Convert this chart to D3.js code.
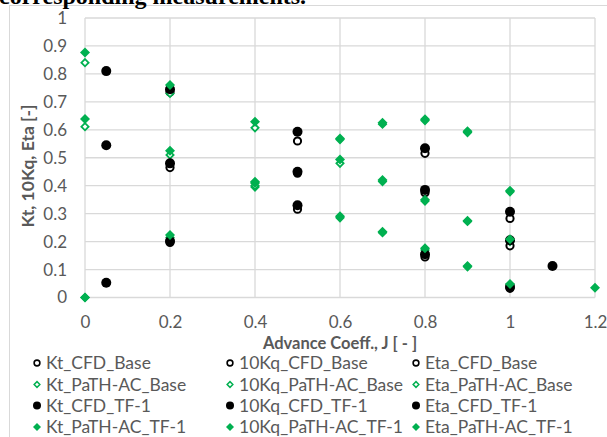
<!DOCTYPE html>
<html>
<head>
<meta charset="utf-8">
<script src="https://cdn.jsdelivr.net/npm/d3@7/dist/d3.min.js"></script>
<style>
  html, body { margin: 0; padding: 0; background: #fff; }
  svg { display: block; }
</style>
</head>
<body>
<svg id="chart" width="607" height="437"></svg>
<script>
// Advance coefficient values for each data source
const cfdBaseJ = [0.2, 0.5, 0.8, 1.0];
const cfdTfJ   = [0.05, 0.2, 0.5, 0.8, 1.0, 1.1];
const pathJ    = [0, 0.2, 0.4, 0.6, 0.7, 0.8, 0.9, 1.0, 1.2];

// CFD results, base propeller
const ktCfdBase  = [0.465, 0.316, 0.145, 0.033];
const kqCfdBase  = [0.735, 0.560, 0.375, 0.185];
const etaCfdBase = [0.197, 0.445, 0.516, 0.283];

// PaTH-AC results, base propeller
const ktPathBase  = [0.611, 0.510, 0.395, 0.285, 0.232, 0.170, 0.110, 0.045, null];
const kqPathBase  = [0.840, 0.730, 0.607, 0.480, 0.415, 0.345, 0.272, 0.200, null];
const etaPathBase = [0.000, 0.215, 0.400, 0.565, 0.620, 0.633, 0.590, 0.378, null];

// CFD results, TF-1
const ktCfdTf  = [0.545, 0.480, 0.330, 0.155, 0.038, null];
const kqCfdTf  = [0.810, 0.745, 0.593, 0.385, 0.205, null];
const etaCfdTf = [0.053, 0.202, 0.450, 0.534, 0.307, 0.113];

// PaTH-AC results, TF-1
const ktPathTf  = [0.639, 0.525, 0.410, 0.291, 0.235, 0.176, 0.113, 0.048, null];
const kqPathTf  = [0.877, 0.760, 0.629, 0.494, 0.420, 0.350, 0.275, 0.208, null];
const etaPathTf = [0.000, 0.224, 0.414, 0.569, 0.625, 0.638, 0.595, 0.382, 0.035];

const xTicks = [0, 0.2, 0.4, 0.6, 0.8, 1, 1.2];
const yTicks = [0, 0.1, 0.2, 0.3, 0.4, 0.5, 0.6, 0.7, 0.8, 0.9, 1];

// Series in legend order (row by row, three columns)
const series = [
  { name: "Kt_CFD_Base",        j: cfdBaseJ, v: ktCfdBase,   kind: "openCircle" },
  { name: "10Kq_CFD_Base",      j: cfdBaseJ, v: kqCfdBase,   kind: "openCircle" },
  { name: "Eta_CFD_Base",       j: cfdBaseJ, v: etaCfdBase,  kind: "openCircle" },
  { name: "Kt_PaTH-AC_Base",    j: pathJ,    v: ktPathBase,  kind: "openDiamond" },
  { name: "10Kq_PaTH-AC_Base",  j: pathJ,    v: kqPathBase,  kind: "openDiamond" },
  { name: "Eta_PaTH-AC_Base",   j: pathJ,    v: etaPathBase, kind: "openDiamond" },
  { name: "Kt_CFD_TF-1",        j: cfdTfJ,   v: ktCfdTf,     kind: "circle" },
  { name: "10Kq_CFD_TF-1",      j: cfdTfJ,   v: kqCfdTf,     kind: "circle" },
  { name: "Eta_CFD_TF-1",       j: cfdTfJ,   v: etaCfdTf,    kind: "circle" },
  { name: "Kt_PaTH-AC_TF-1",    j: pathJ,    v: ktPathTf,    kind: "diamond" },
  { name: "10Kq_PaTH-AC_TF-1",  j: pathJ,    v: kqPathTf,    kind: "diamond" },
  { name: "Eta_PaTH-AC_TF-1",   j: pathJ,    v: etaPathTf,   kind: "diamond" }
];

const GREEN = "#00b050";
const svg = d3.select("#chart");
const font = "Lato, 'Open Sans', sans-serif";
const grey = "#595959";

// Chart frame
svg.append("rect")
  .attr("x", 9.5).attr("y", 5.5).attr("width", 620).attr("height", 450)
  .attr("fill", "#fff").attr("stroke", "#d9d9d9").attr("stroke-width", 1);

// Caption line above the chart, running off the top edge
svg.append("text")
  .attr("x", -1).attr("y", 4)
  .attr("font-family", "'Liberation Serif', 'Times New Roman', serif")
  .attr("font-weight", "bold").attr("font-size", 24)
  .attr("fill", "#000")
  .text("corresponding measurements.");

const x = d3.scaleLinear().domain([0, 1.2]).range([85, 595]);
const y = d3.scaleLinear().domain([0, 1]).range([297.5, 18]);

// Gridlines
const grid = svg.append("g").attr("stroke", "#d9d9d9").attr("stroke-width", 1.3);
grid.selectAll("line.h").data(yTicks).join("line")
  .attr("x1", x(0)).attr("x2", x(1.2))
  .attr("y1", d => y(d)).attr("y2", d => y(d));
grid.selectAll("line.v").data(xTicks).join("line")
  .attr("y1", y(0)).attr("y2", y(1))
  .attr("x1", d => x(d)).attr("x2", d => x(d));

// Axes (labels only; lines come from the grid)
const xAxis = svg.append("g").attr("transform", `translate(0,${y(0)})`)
  .call(d3.axisBottom(x).tickValues(xTicks).tickSize(0).tickPadding(18).tickFormat(d3.format("")));
const yAxis = svg.append("g").attr("transform", `translate(${x(0)},0)`)
  .call(d3.axisLeft(y).tickValues(yTicks).tickSize(0).tickPadding(18).tickFormat(d3.format("")));
[xAxis, yAxis].forEach(a => {
  a.select(".domain").remove();
  a.selectAll("text").attr("font-family", font).attr("font-size", 17).attr("fill", grey);
});

// Axis titles
svg.append("text")
  .attr("x", 340).attr("y", 349).attr("text-anchor", "middle")
  .attr("font-family", font).attr("font-size", 16.5).attr("font-weight", "bold").attr("fill", grey)
  .text("Advance Coeff., J [ - ]");
svg.append("text")
  .attr("transform", "translate(34,166) rotate(-90)").attr("text-anchor", "middle")
  .attr("font-family", font).attr("font-size", 17.5).attr("font-weight", "bold").attr("fill", grey)
  .text("Kt, 10Kq, Eta [-]");

// Marker drawing helper
function marker(g, kind, scale) {
  const s = scale || 1;
  if (kind === "openCircle") {
    g.append("circle").attr("r", 3.6 * s).attr("fill", "#fff").attr("stroke", "#000").attr("stroke-width", 2 * s);
  } else if (kind === "circle") {
    g.append("circle").attr("r", 5 * s).attr("fill", "#000");
  } else if (kind === "openDiamond") {
    const r = 3.6 * s;
    g.append("path").attr("d", `M0,${-r}L${r},0L0,${r}L${-r},0Z`)
      .attr("fill", "#fff").attr("stroke", GREEN).attr("stroke-width", 1.8 * s);
  } else {
    const r = 5 * s;
    g.append("path").attr("d", `M0,${-r}L${r},0L0,${r}L${-r},0Z`).attr("fill", GREEN);
  }
}

// Points
const plot = svg.append("g");
series.forEach(sr => {
  const pts = sr.j.map((j, i) => ({ j, v: sr.v[i] })).filter(p => p.v !== null);
  pts.forEach(p => {
    const g = plot.append("g").attr("transform", `translate(${x(p.j)},${y(p.v)})`);
    marker(g, sr.kind, 1);
  });
});

// Legend: three columns, four rows
const colX = [37, 230, 416];
const rowY = [363, 384.5, 405.5, 427];
series.forEach((sr, i) => {
  const cx = colX[i % 3], cy = rowY[Math.floor(i / 3)];
  const g = svg.append("g").attr("transform", `translate(${cx},${cy})`);
  marker(g, sr.kind, 0.8);
  g.append("text").attr("x", 9).attr("y", 0).attr("dy", "0.35em")
    .attr("font-family", font).attr("font-size", 17.5).attr("fill", grey)
    .text(sr.name);
});
</script>
</body>
</html>
